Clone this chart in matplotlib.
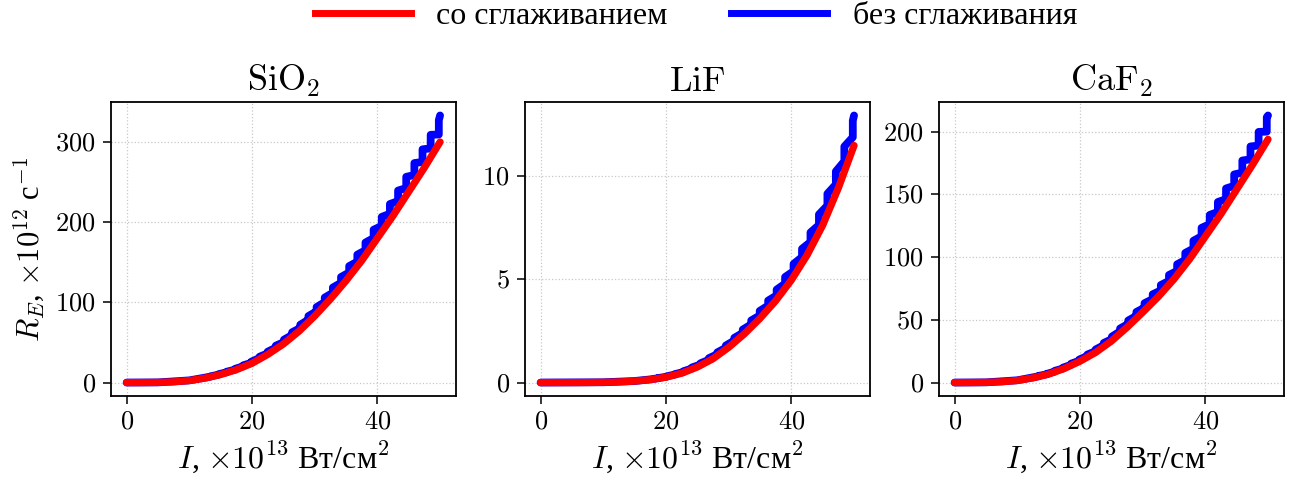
import numpy as np
import matplotlib
matplotlib.use("Agg")
import matplotlib.pyplot as plt
from matplotlib.ticker import FuncFormatter
from matplotlib.lines import Line2D

plt.rcParams["font.family"] = ["Liberation Serif", "DejaVu Serif"]
plt.rcParams["mathtext.fontset"] = "cm"

# Intensity grid for the smoothed rates, x10^13 W/cm^2
intensity = [0, 2.5, 5, 7.5, 10, 12.5, 15, 17.5, 20, 22.5, 25, 27.5,
             30, 32.5, 35, 37.5, 40, 42.5, 45, 47.5, 50]

# Smoothed ionization rate, x10^12 s^-1
sio2_smooth = [0, 0.02, 0.2, 0.9, 2.5, 5.5, 10, 16, 24, 35, 48, 64,
               83, 104, 127, 152, 180, 208, 238, 268, 300]
lif_smooth = [0, 0.0002, 0.0005, 0.003, 0.012, 0.03, 0.07, 0.14, 0.26, 0.45, 0.75, 1.15,
              1.7, 2.35, 3.1, 3.95, 4.95, 6.15, 7.6, 9.4, 11.45]
caf2_smooth = [0, 0.01, 0.15, 0.6, 1.7, 3.7, 6.7, 11.2, 17, 24, 33, 44,
               56, 68.5, 82.5, 98.5, 116.5, 134.5, 154, 173.5, 194]

# Unsmoothed rates: start points, then channel thresholds with the rate
# just below and just above each jump, then the end point at I = 50
sio2_start_i = [0, 5, 10]
sio2_start_r = [0, 0.2, 2.7]
sio2_step_i = [13.4, 14.7, 16.0, 17.3, 18.6, 19.9, 21.2, 22.5, 23.8, 25.1,
               26.4, 27.7, 29.0, 30.3, 31.6, 32.9, 34.2, 35.5, 36.8, 38.1,
               39.4, 40.7, 42.0, 43.3, 44.6, 45.9, 47.2, 48.5, 49.8]
sio2_step_lo = [7.4, 9.9, 12.9, 16.1, 20.3, 24.6, 30.5, 36.4, 43.5, 50.5,
                59.3, 68.1, 78.4, 88.9, 100.3, 112.0, 124.4, 137.3, 150.8, 165.0,
                180.2, 195.3, 210.5, 226.3, 242.5, 258.8, 275.0, 292.0, 309.3]
sio2_step_hi = [7.8, 10.5, 13.6, 17.1, 21.5, 26.1, 32.2, 38.5, 46.0, 53.5,
                62.7, 72.1, 82.9, 94.1, 106.0, 118.5, 131.6, 145.2, 159.5, 174.6,
                190.6, 206.6, 222.6, 239.4, 256.5, 273.7, 290.8, 308.9, 327.1]
sio2_end = 333

lif_start_i = [0, 10, 15, 17.4]
lif_start_r = [0, 0.013, 0.075, 0.15]
lif_step_i = [18.75, 20.1, 21.45, 22.8, 24.15, 25.5, 26.85, 28.2, 29.55, 30.9,
              32.25, 33.6, 34.95, 36.3, 37.65, 39.0, 40.35, 41.7, 43.05, 44.4,
              45.75, 47.1, 48.45, 49.8]
lif_step_lo = [0.21, 0.28, 0.39, 0.51, 0.68, 0.87, 1.10, 1.37, 1.68, 2.03,
               2.40, 2.81, 3.24, 3.72, 4.21, 4.78, 5.38, 6.06, 6.79, 7.61,
               8.55, 9.57, 10.69, 11.85]
lif_step_hi = [0.22, 0.30, 0.41, 0.55, 0.73, 0.93, 1.18, 1.46, 1.79, 2.16,
               2.56, 3.00, 3.46, 3.96, 4.49, 5.10, 5.73, 6.46, 7.25, 8.12,
               9.12, 10.20, 11.40, 12.65]
lif_end = 12.9

caf2_start_i = [0, 5, 10]
caf2_start_r = [0, 0.15, 1.8]
caf2_step_i = [13.4, 14.7, 16.0, 17.3, 18.6, 19.9, 21.2, 22.5, 23.8, 25.1,
               26.4, 27.7, 29.0, 30.3, 31.6, 32.9, 34.2, 35.5, 36.8, 38.1,
               39.4, 40.7, 42.0, 43.3, 44.6, 45.9, 47.2, 48.5, 49.8]
caf2_step_lo = [5.0, 6.6, 8.8, 11.2, 14.2, 17.4, 21.2, 25.0, 29.8, 34.7,
                40.8, 46.8, 53.2, 59.8, 66.6, 73.5, 81.1, 89.1, 97.8, 106.9,
                116.7, 126.4, 136.1, 146.3, 156.9, 167.4, 178.0, 189.0, 200.1]
caf2_step_hi = [5.3, 6.9, 9.4, 11.9, 15.1, 18.4, 22.4, 26.4, 31.6, 36.7,
                43.1, 49.5, 56.3, 63.3, 70.4, 77.8, 85.8, 94.3, 103.4, 113.1,
                123.4, 133.7, 144.0, 154.8, 166.0, 177.1, 188.3, 199.9, 211.6]
caf2_end = 213

titles = [r"$\mathrm{SiO_2}$", r"$\mathrm{LiF}$", r"$\mathrm{CaF_2}$"]
yticks = [[0, 100, 200, 300], [0, 5, 10], [0, 50, 100, 150, 200]]
xticks = [0, 20, 40]
label_smooth = "со сглаживанием"
label_raw = "без сглаживания"


def staircase(start_i, start_r, step_i, step_lo, step_hi, end_r):
    xs = list(start_i)
    ys = list(start_r)
    for d, lo, hi in zip(step_i, step_lo, step_hi):
        xs += [d, d]
        ys += [lo, hi]
    xs.append(intensity[-1])
    ys.append(end_r)
    return xs, ys


panels = [
    (sio2_smooth, staircase(sio2_start_i, sio2_start_r, sio2_step_i, sio2_step_lo, sio2_step_hi, sio2_end)),
    (lif_smooth, staircase(lif_start_i, lif_start_r, lif_step_i, lif_step_lo, lif_step_hi, lif_end)),
    (caf2_smooth, staircase(caf2_start_i, caf2_start_r, caf2_step_i, caf2_step_lo, caf2_step_hi, caf2_end)),
]

fig = plt.figure(figsize=(13.01, 4.84), dpi=100)
lefts = [0.0853, 0.4035, 0.7217]
red = "#ff0000"
blue = "#0000ff"
mfmt = FuncFormatter(lambda v, p: f"${v:g}$")

for k, (smooth, (bx, by)) in enumerate(panels):
    ax = fig.add_axes([lefts[k], 0.182, 0.265, 0.607])
    ax.plot(bx, by, color=blue, lw=5.6, solid_joinstyle="round", solid_capstyle="round")
    ax.plot(intensity, smooth, color=red, lw=5.2, solid_capstyle="round")
    ax.set_xlim(-2.5, 52.5)
    top = max(by)
    ax.set_ylim(-0.05 * top, 1.05 * top)
    ax.set_xticks(xticks)
    ax.set_yticks(yticks[k])
    ax.xaxis.set_major_formatter(mfmt)
    ax.yaxis.set_major_formatter(mfmt)
    ax.tick_params(labelsize=19, length=6, width=1.1, pad=5)
    ax.grid(True, ls=":", color="#c8c8c8", lw=0.9)
    for s in ax.spines.values():
        s.set_linewidth(1.3)
    ax.set_title(titles[k], fontsize=26, pad=8)
    ax.set_xlabel(r"$I$, $\times10^{13}$ Вт/см$^2$", fontsize=23, labelpad=4)
    if k == 0:
        ax.set_ylabel(r"$R_E$, $\times10^{12}$ с$^{-1}$", fontsize=22, labelpad=6)

handles = [Line2D([], [], color=red, lw=5), Line2D([], [], color=blue, lw=5)]
fig.legend(handles, [label_smooth, label_raw], loc="center", ncol=2,
           bbox_to_anchor=(0.535, 0.966), frameon=False, fontsize=23,
           handlelength=3.0, handletextpad=0.8, columnspacing=2.0)

fig.savefig("out.png", dpi=100)
